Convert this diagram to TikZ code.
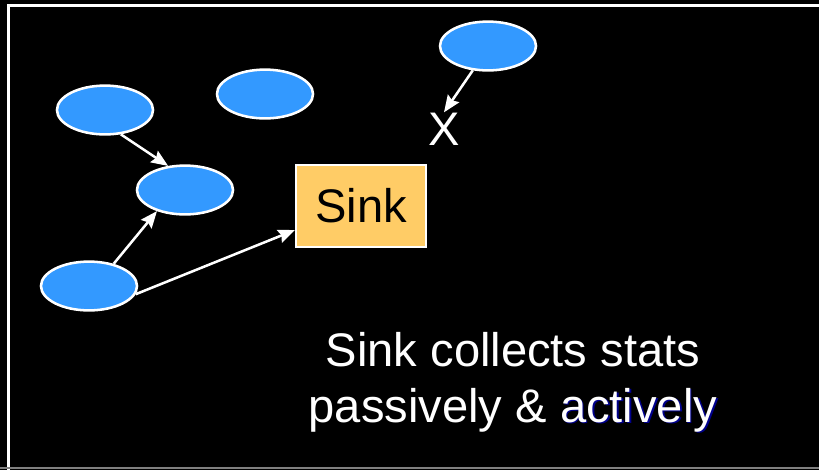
\documentclass[tikz,border=0pt]{standalone}
\usepackage{fontspec}
\setmainfont{Liberation Sans}
\usetikzlibrary{shapes.geometric,arrows.meta}
\definecolor{nodeblue}{RGB}{51,153,255}
\definecolor{sinkorange}{RGB}{255,204,102}
\definecolor{shadowblue}{RGB}{0,0,140}
\newcommand{\shadowword}[1]{\leavevmode\rlap{\kern1.2pt\raisebox{-1.2pt}{\textcolor{shadowblue}{#1}}}#1}

\begin{document}
\begin{tikzpicture}[x=0.025cm,y=-0.025cm,
    sensor/.style={ellipse,draw=white,fill=nodeblue,line width=1.8pt,
      minimum width=2.4cm,minimum height=1.22cm,inner sep=0pt},
    sinkbox/.style={rectangle,draw=white,fill=sinkorange,line width=1.4pt,
      minimum width=3.25cm,minimum height=2.05cm,font=\fontsize{33.5}{40}\selectfont},
    bigtext/.style={text=white,inner sep=0pt,anchor=base,font=\fontsize{33.5}{40}\selectfont},
    link/.style={draw=white,line width=1.8pt,-{Stealth[length=0.42cm,width=0.34cm,inset=0.06cm]}}]
  \useasboundingbox (0,0) rectangle (819,469);
  % background and frame
  \fill[black] (-20,-20) rectangle (840,490);
  \draw[white,line width=1.6pt] (8.5,490) -- (8.5,5.5) -- (840,5.5);
  \draw[gray,line width=0.8pt] (-20,468) -- (840,468);
  % sensor nodes
  \node[sensor] (e1) at (488,46) {};
  \node[sensor] (e2) at (265,94) {};
  \node[sensor] (e3) at (105,110) {};
  \node[sensor] (e4) at (185,190) {};
  \node[sensor] (e5) at (89,286) {};
  \node[sinkbox] (sink) at (361,206) {Sink};
  \node[bigtext] (xmark) at (444,145) {X};
  % links
  \draw[link] (e3.-57) -- (e4.125);
  \draw[link] (e5.42) -- (e4.-143);
  \draw[link] (e5.-10) -- (sink.200);
  \draw[link] (e1.-122) -- (xmark.north);
  % caption
  \node[bigtext] (line1) at (513,366) {Sink collects stats};
  \node[bigtext] (line2) at (513,422) {passively \& \shadowword{actively}};
\end{tikzpicture}
\end{document}
